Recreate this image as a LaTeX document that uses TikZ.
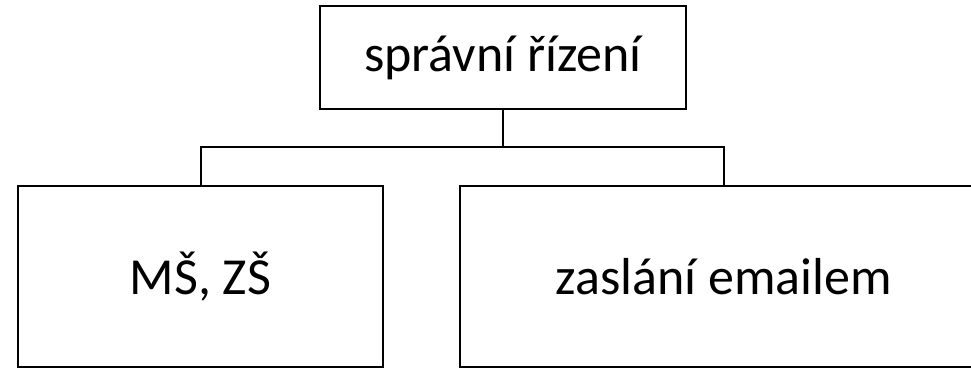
\documentclass[tikz,border=0pt]{standalone}
\usepackage{fontspec}
\setmainfont{Carlito}
\begin{document}
\begin{tikzpicture}[x=1pt,y=-1pt,
  box/.style={draw=black,line width=2pt,fill=white,inner sep=0pt,font=\fontsize{52}{62}\selectfont},
  conn/.style={draw=black,line width=2pt}]
\useasboundingbox (0,0) rectangle (971,368);
\clip (0,0) rectangle (971,368);
\node[box,minimum width=366pt,minimum height=103pt] (top) at (503,57.5) {správní řízení};
\node[box,minimum width=365pt,minimum height=181pt] (left) at (200.5,276.5) {MŠ, ZŠ};
\node[box,minimum width=527pt,minimum height=181pt] (right) at (723.7,276.5) {zaslání emailem};
\coordinate (bar) at (503,147);
\draw[conn] (top.south) -- (bar);
\draw[conn] (bar) -| (left.north);
\draw[conn] (bar) -| (right.north);
\end{tikzpicture}
\end{document}
